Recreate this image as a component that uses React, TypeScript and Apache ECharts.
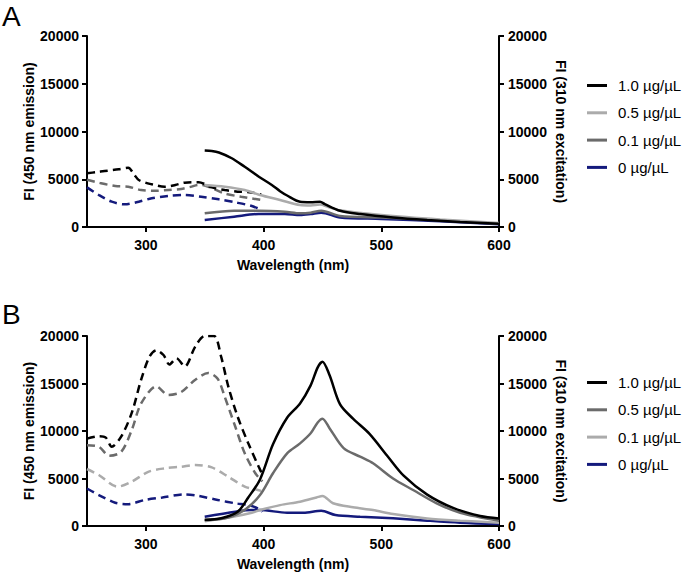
import React, { useEffect, useRef } from "react";
import * as echarts from "echarts";

// ---- data ----
const xTicks = [300, 400, 500, 600];
const legendLabels = ["1.0 µg/µL", "0.5 µg/µL", "0.1 µg/µL", "0 µg/µL"];

// Panel A: excitation spectra (dashed, left axis)
const aDash10 = [[250,5620],[258,5750],[265,5860],[277,6040],[285,6200],[290,5500],[294,4920],[305,4470],[316,4220],[325,4400],[333,4640],[345,4680],[350,4500],[356,4150],[367,3870],[378,3700],[388,3650],[398,3400]];
const aDash01 = [[250,4950],[260,4640],[274,4290],[285,4220],[296,3870],[308,3800],[319,3870],[330,3980],[338,4200],[345,4400],[350,4350],[356,4080],[367,3500],[381,3170],[398,2830]];
const aDash0 = [[250,4150],[260,3350],[271,2650],[282,2370],[294,2650],[305,3000],[319,3250],[333,3350],[347,3170],[362,2900],[376,2580],[390,2200],[397,1850]];
// Panel A: emission spectra (solid, right axis)
const aEm10 = [[350,8000],[356,7950],[362,7800],[373,7200],[384,6300],[396,5270],[407,4400],[414,3750],[420,3300],[431,2650],[440,2600],[448,2650],[452,2400],[465,1700],[482,1360],[510,1000],[539,730],[567,520],[600,350]];
const aEm05 = [[350,4400],[367,4220],[384,3870],[397,3350],[414,2830],[431,2300],[440,2250],[448,2350],[455,2100],[465,1750],[500,1250],[550,780],[600,420]];
const aEm01 = [[350,1430],[375,1700],[396,1700],[418,1600],[431,1430],[440,1500],[449,1700],[465,1150],[500,1000],[550,700],[600,350]];
const aEm0 = [[350,730],[375,1080],[396,1360],[418,1360],[431,1250],[440,1350],[449,1500],[465,1000],[500,850],[550,600],[600,300]];

// Panel B: excitation spectra (dashed, left axis)
const bDash10 = [[250,9200],[260,9450],[266,9300],[271,8350],[279,9400],[288,11900],[296,15400],[303,17800],[309,18500],[315,18000],[320,17000],[326,17650],[333,16800],[342,18900],[350,20000],[358,20000],[364,17800],[370,14700],[378,11500],[387,8700],[396,6200],[399,5400]];
const bDash05 = [[250,8500],[260,8350],[269,7400],[279,7800],[288,10100],[296,12900],[309,14700],[319,13800],[330,14100],[342,15400],[353,16100],[361,15500],[367,13600],[376,10450],[384,7650],[393,5550],[399,4700]];
const bDash01 = [[250,6000],[260,5370],[276,4140],[288,4670],[302,5700],[316,6070],[330,6240],[342,6420],[356,6170],[370,5190],[384,4140],[393,3860],[398,3700]];
const bDash0 = [[250,3950],[260,3260],[274,2450],[285,2300],[299,2740],[314,3000],[333,3330],[345,3160],[361,2740],[376,2390],[387,2200],[395,1860],[399,1500]];
// Panel B: emission spectra (solid, right axis)
const bEm10 = [[350,650],[364,820],[378,1500],[387,3000],[397,4900],[408,8600],[420,11400],[431,12900],[440,14800],[446,16700],[450,17300],[456,15900],[465,12800],[476,11300],[490,9700],[505,7400],[519,5300],[539,3300],[561,1900],[584,1050],[600,800]];
const bEm05 = [[350,600],[370,900],[385,1800],[397,3260],[408,5550],[420,7650],[431,8700],[440,9760],[446,10900],[450,11300],[456,10300],[468,8200],[482,7300],[493,6600],[510,5000],[527,3790],[547,2390],[567,1400],[600,560]];
const bEm01 = [[350,500],[375,1000],[390,1400],[397,1680],[414,2200],[431,2560],[445,3000],[450,3160],[459,2390],[476,1970],[493,1680],[510,1260],[539,800],[567,560],[600,350]];
const bEm0 = [[350,980],[376,1500],[390,1680],[397,1680],[420,1400],[434,1400],[449,1600],[461,1160],[482,980],[510,810],[539,560],[567,350],[600,200]];

// ---- styles ----
const BLACK = "#000000";
const DARK = "#6b6b6b";
const LIGHT = "#ababab";
const NAVY = "#141a7c";
const FONT = "Liberation Sans";

export default function App() {
  const ref = useRef<HTMLDivElement>(null);
  useEffect(() => {
    document.body.style.margin = "0";
    const chart = echarts.init(ref.current!, null, { renderer: "svg" });

    const axisLineStyle = { show: true, lineStyle: { color: "#000", width: 2 } };
    const tickLabel = { color: "#000", fontWeight: "bold" as const, fontSize: 14, fontFamily: FONT, formatter: (v: number) => String(v) };
    const nameStyle = { color: "#000", fontWeight: "bold" as const, fontSize: 14, fontFamily: FONT };

    const xAxis = (gridIndex: number) => ({
      type: "value", gridIndex, min: 250, max: 600,
      axisLine: axisLineStyle,
      axisTick: { show: true, length: 5, customValues: xTicks, lineStyle: { width: 2, color: "#000" } },
      axisLabel: { ...tickLabel, customValues: xTicks, margin: 11 },
      splitLine: { show: false },
      name: "Wavelength (nm)", nameLocation: "middle", nameGap: 31, nameTextStyle: nameStyle,
      nameMoveOverlap: false,
    });
    const yAxis = (gridIndex: number, right: boolean) => ({
      type: "value", gridIndex, min: 0, max: 20000, interval: 5000,
      position: right ? "right" : "left",
      axisLine: axisLineStyle,
      axisTick: { show: true, length: 5, lineStyle: { width: 2, color: "#000" } },
      axisLabel: { ...tickLabel, margin: right ? 9 : 8 },
      splitLine: { show: false },
      name: right ? "FI (310 nm excitation)" : "FI (450 nm emission)",
      nameLocation: "middle", nameGap: right ? 55 : 51, nameRotate: right ? -90 : 90,
      nameTextStyle: nameStyle,
      nameMoveOverlap: false,
    });

    const line = (name: string, data: number[][], color: string, xi: number, yi: number, dashed: boolean) => ({
      type: "line", name, data, xAxisIndex: xi, yAxisIndex: yi,
      showSymbol: false, symbol: "none", smooth: 0.3, color,
      lineStyle: { color, width: 2.5, type: dashed ? [8, 5] : "solid" },
      z: dashed ? 2 : 3,
    });

    const aColors = [BLACK, LIGHT, DARK, NAVY];
    const bColors = [BLACK, DARK, LIGHT, NAVY];
    const aEm = [aEm10, aEm05, aEm01, aEm0];
    const bEm = [bEm10, bEm05, bEm01, bEm0];

    const series: any[] = [
      line("aDash01", aDash01, DARK, 0, 0, true),
      line("aDash0", aDash0, NAVY, 0, 0, true),
      line("aDash10", aDash10, BLACK, 0, 0, true),
      line("bDash0", bDash0, NAVY, 1, 2, true),
      line("bDash01", bDash01, LIGHT, 1, 2, true),
      line("bDash05", bDash05, DARK, 1, 2, true),
      line("bDash10", bDash10, BLACK, 1, 2, true),
    ];
    [3, 2, 1, 0].forEach((i) => series.push(line("A|" + legendLabels[i], aEm[i], aColors[i], 0, 1, false)));
    [3, 2, 1, 0].forEach((i) => series.push(line("B|" + legendLabels[i], bEm[i], bColors[i], 1, 3, false)));

    const legend = (prefix: string, top: number) => ({
      orient: "vertical", left: 587, top, padding: 0, itemWidth: 20, itemHeight: 3, itemGap: 12.3,
      icon: "rect", selectedMode: false,
      data: legendLabels.map((l) => prefix + "|" + l),
      formatter: (n: string) => n.split("|")[1],
      textStyle: { color: "#000", fontSize: 15, fontFamily: FONT, padding: [0, 0, 0, 6] },
    });

    const titleStyle = { fontSize: 28, fontWeight: "normal" as const, fontFamily: FONT, color: "#000" };
    chart.setOption({
      animation: false,
      backgroundColor: "#fff",
      title: [
        { text: "A", left: 2, top: 2, padding: 0, textStyle: titleStyle },
        { text: "B", left: 2, top: 300, padding: 0, textStyle: titleStyle },
      ],
      grid: [
        { left: 87, right: 186, top: 36, height: 191 },
        { left: 87, right: 186, top: 336, height: 190 },
      ],
      xAxis: [xAxis(0), xAxis(1)],
      yAxis: [yAxis(0, false), yAxis(0, true), yAxis(1, false), yAxis(1, true)],
      legend: [legend("A", 78), legend("B", 375)],
      series,
    });
    return () => chart.dispose();
  }, []);
  return <div ref={ref} style={{ width: 685, height: 576 }} />;
}
